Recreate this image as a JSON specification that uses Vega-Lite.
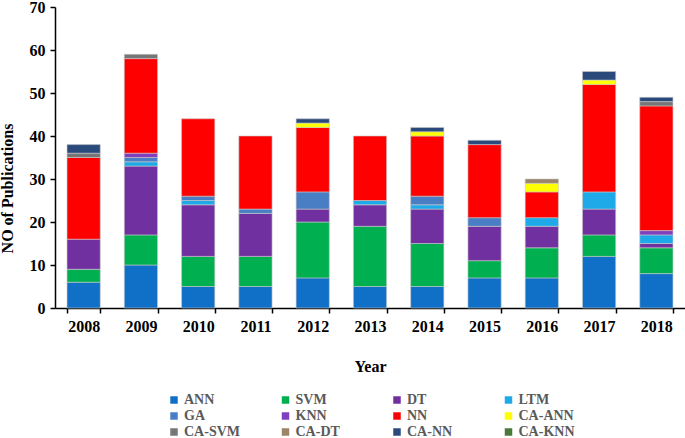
{
  "$schema": "https://vega.github.io/schema/vega-lite/v6.json",
  "autosize": {"type": "none"},
  "padding": {"left": 55, "top": 7, "right": 0, "bottom": 130},
  "width": 630,
  "height": 301,
  "background": "white",
  "datasets": {
    "methods": [
      {"method": "ANN", "rank": 1}, {"method": "SVM", "rank": 2}, {"method": "DT", "rank": 3}, {"method": "LTM", "rank": 4},
      {"method": "GA", "rank": 5}, {"method": "KNN", "rank": 6}, {"method": "NN", "rank": 7}, {"method": "CA-ANN", "rank": 8},
      {"method": "CA-SVM", "rank": 9}, {"method": "CA-DT", "rank": 10}, {"method": "CA-NN", "rank": 11}, {"method": "CA-KNN", "rank": 12}
    ],
    "publications": [
      {"year": "2008", "method": "ANN", "n": 6}, {"year": "2008", "method": "SVM", "n": 3}, {"year": "2008", "method": "DT", "n": 7}, {"year": "2008", "method": "NN", "n": 19}, {"year": "2008", "method": "CA-SVM", "n": 1}, {"year": "2008", "method": "CA-NN", "n": 2},
      {"year": "2009", "method": "ANN", "n": 10}, {"year": "2009", "method": "SVM", "n": 7}, {"year": "2009", "method": "DT", "n": 16}, {"year": "2009", "method": "LTM", "n": 1}, {"year": "2009", "method": "GA", "n": 1}, {"year": "2009", "method": "KNN", "n": 1}, {"year": "2009", "method": "NN", "n": 22}, {"year": "2009", "method": "CA-SVM", "n": 1},
      {"year": "2010", "method": "ANN", "n": 5}, {"year": "2010", "method": "SVM", "n": 7}, {"year": "2010", "method": "DT", "n": 12}, {"year": "2010", "method": "LTM", "n": 1}, {"year": "2010", "method": "GA", "n": 1}, {"year": "2010", "method": "NN", "n": 18},
      {"year": "2011", "method": "ANN", "n": 5}, {"year": "2011", "method": "SVM", "n": 7}, {"year": "2011", "method": "DT", "n": 10}, {"year": "2011", "method": "GA", "n": 1}, {"year": "2011", "method": "NN", "n": 17},
      {"year": "2012", "method": "ANN", "n": 7}, {"year": "2012", "method": "SVM", "n": 13}, {"year": "2012", "method": "DT", "n": 3}, {"year": "2012", "method": "GA", "n": 4}, {"year": "2012", "method": "NN", "n": 15}, {"year": "2012", "method": "CA-ANN", "n": 1}, {"year": "2012", "method": "CA-NN", "n": 1},
      {"year": "2013", "method": "ANN", "n": 5}, {"year": "2013", "method": "SVM", "n": 14}, {"year": "2013", "method": "DT", "n": 5}, {"year": "2013", "method": "LTM", "n": 1}, {"year": "2013", "method": "NN", "n": 15},
      {"year": "2014", "method": "ANN", "n": 5}, {"year": "2014", "method": "SVM", "n": 10}, {"year": "2014", "method": "DT", "n": 8}, {"year": "2014", "method": "LTM", "n": 1}, {"year": "2014", "method": "GA", "n": 2}, {"year": "2014", "method": "NN", "n": 14}, {"year": "2014", "method": "CA-ANN", "n": 1}, {"year": "2014", "method": "CA-NN", "n": 1},
      {"year": "2015", "method": "ANN", "n": 7}, {"year": "2015", "method": "SVM", "n": 4}, {"year": "2015", "method": "DT", "n": 8}, {"year": "2015", "method": "GA", "n": 2}, {"year": "2015", "method": "NN", "n": 17}, {"year": "2015", "method": "CA-NN", "n": 1},
      {"year": "2016", "method": "ANN", "n": 7}, {"year": "2016", "method": "SVM", "n": 7}, {"year": "2016", "method": "DT", "n": 5}, {"year": "2016", "method": "LTM", "n": 2}, {"year": "2016", "method": "NN", "n": 6}, {"year": "2016", "method": "CA-ANN", "n": 2}, {"year": "2016", "method": "CA-DT", "n": 1},
      {"year": "2017", "method": "ANN", "n": 12}, {"year": "2017", "method": "SVM", "n": 5}, {"year": "2017", "method": "DT", "n": 6}, {"year": "2017", "method": "LTM", "n": 4}, {"year": "2017", "method": "NN", "n": 25}, {"year": "2017", "method": "CA-ANN", "n": 1}, {"year": "2017", "method": "CA-NN", "n": 2},
      {"year": "2018", "method": "ANN", "n": 8}, {"year": "2018", "method": "SVM", "n": 6}, {"year": "2018", "method": "DT", "n": 1}, {"year": "2018", "method": "LTM", "n": 2}, {"year": "2018", "method": "KNN", "n": 1}, {"year": "2018", "method": "NN", "n": 29}, {"year": "2018", "method": "CA-SVM", "n": 1}, {"year": "2018", "method": "CA-NN", "n": 1}
    ]
  },
  "data": {"name": "publications"},
  "transform": [
    {"lookup": "method", "from": {"data": {"name": "methods"}, "key": "method", "fields": ["rank"]}}
  ],
  "mark": {"type": "bar", "stroke": "#c8c8c8", "strokeWidth": 0.6},
  "encoding": {
    "x": {
      "field": "year", "type": "nominal",
      "scale": {"paddingInner": 0.42, "paddingOuter": 0.21},
      "axis": {
        "title": "Year", "labelAngle": 0, "tickBand": "extent",
        "domainColor": "black", "domainWidth": 1.5, "tickColor": "black", "tickWidth": 1.5, "tickSize": 5,
        "labelFont": "Liberation Serif", "labelFontWeight": "bold", "labelFontSize": 16, "labelColor": "black", "labelPadding": 5,
        "titleFont": "Liberation Serif", "titleFontWeight": "bold", "titleFontSize": 16, "titleColor": "black", "titlePadding": 24
      }
    },
    "y": {
      "field": "n", "type": "quantitative", "stack": "zero",
      "scale": {"domain": [0, 70], "nice": false},
      "axis": {
        "title": "NO of Publications", "values": [0, 10, 20, 30, 40, 50, 60, 70], "grid": false,
        "domainColor": "black", "domainWidth": 1.5, "tickColor": "black", "tickWidth": 1.5, "tickSize": 5,
        "labelFont": "Liberation Serif", "labelFontWeight": "bold", "labelFontSize": 16, "labelColor": "black", "labelPadding": 5,
        "titleFont": "Liberation Serif", "titleFontWeight": "bold", "titleFontSize": 16, "titleColor": "black",
        "titleX": -40, "titleY": 181
      }
    },
    "color": {
      "field": "method", "type": "nominal",
      "scale": {
        "domain": ["ANN", "SVM", "DT", "LTM", "GA", "KNN", "NN", "CA-ANN", "CA-SVM", "CA-DT", "CA-NN", "CA-KNN"],
        "range": ["#1070C8", "#00B050", "#7030A0", "#1EAAE8", "#4A7EC4", "#7F3FBF", "#FF0000", "#FFFF00", "#767676", "#9C8468", "#2A4A7C", "#4A7A3A"]
      },
      "legend": {
        "title": null, "orient": "none", "legendX": 112, "legendY": 386, "direction": "horizontal", "columns": 4,
        "gridAlign": "all", "columnPadding": 38.5, "rowPadding": 2,
        "symbolType": "square", "symbolSize": 56, "symbolStrokeWidth": 0, "symbolOffset": 0,
        "labelFont": "Liberation Serif", "labelFontWeight": "bold", "labelFontSize": 14, "labelColor": "#595959", "labelOffset": 3
      }
    },
    "order": {"field": "rank", "type": "quantitative", "sort": "ascending"}
  },
  "config": {"view": {"stroke": null}}
}
